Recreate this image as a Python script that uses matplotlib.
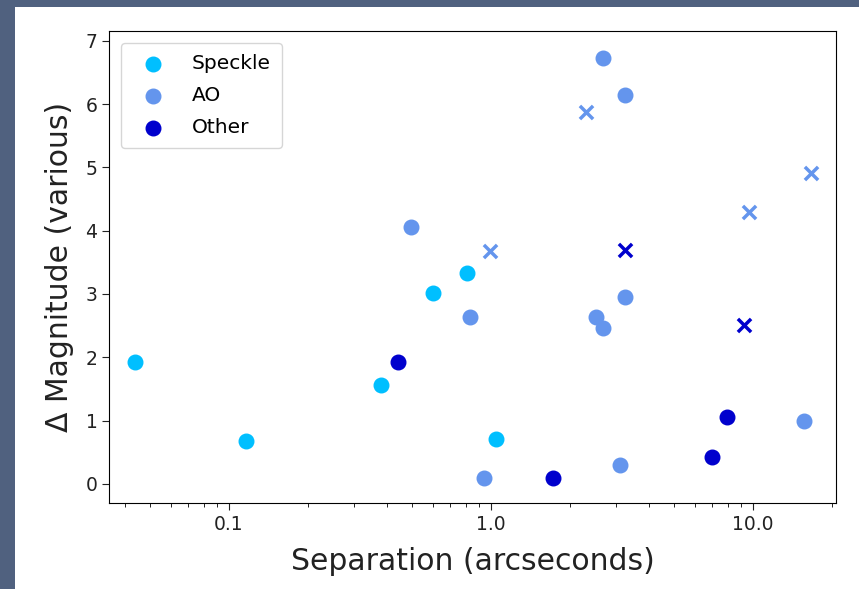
import numpy as np
import matplotlib
matplotlib.use('Agg')
import matplotlib.pyplot as plt
from matplotlib.patches import Rectangle

# Separation (arcsec) and delta magnitude, split by detection technique
speckle_sep = [0.0438, 0.116, 0.380, 0.601, 0.813, 1.045]
speckle_dmag = [1.92, 0.68, 1.57, 3.02, 3.33, 0.71]

ao_sep = [0.495, 0.833, 0.942, 2.68, 3.25, 2.52, 2.68, 3.25, 3.11, 15.6]
ao_dmag = [4.05, 2.64, 0.10, 6.73, 6.14, 2.64, 2.47, 2.96, 0.30, 0.99]

# upper limits / unconfirmed (drawn as crosses)
ao_lim_sep = [2.31, 0.993, 9.69, 16.6]
ao_lim_dmag = [5.87, 3.68, 4.29, 4.91]

other_sep = [0.442, 1.73, 6.99, 7.98]
other_dmag = [1.92, 0.10, 0.42, 1.06]

other_lim_sep = [3.25, 9.26]
other_lim_dmag = [3.70, 2.51]

c_speckle = '#00BFFF'
c_ao = '#6495ED'
c_other = '#0000CD'

fig = plt.figure(figsize=(8.59, 5.89), dpi=100)
fig.patch.set_facecolor('#50617f')
# white page area
fig.patches.append(Rectangle((15 / 859, 0), 1, 1 - 7 / 589, transform=fig.transFigure,
                             facecolor='white', edgecolor='none', zorder=-1))

ax = fig.add_axes([0.1272, 0.1455, 0.9729 - 0.1272, 0.9474 - 0.1455])

ms = 110
ax.scatter(speckle_sep, speckle_dmag, s=ms, c=c_speckle, edgecolors=c_speckle, label='Speckle')
ax.scatter(ao_sep, ao_dmag, s=ms, c=c_ao, edgecolors=c_ao, label='AO')
ax.scatter(other_sep, other_dmag, s=ms, c=c_other, edgecolors=c_other, label='Other')
ax.scatter(ao_lim_sep, ao_lim_dmag, s=90, marker='x', c=c_ao, linewidths=2.5)
ax.scatter(other_lim_sep, other_lim_dmag, s=90, marker='x', c=c_other, linewidths=2.5)

ax.set_xscale('log')
ax.set_xlim(0.0349, 20.7)
ax.set_ylim(-0.305, 7.153)
ax.set_xticks([0.1, 1.0, 10.0])
ax.set_xticklabels(['0.1', '1.0', '10.0'])
ax.set_yticks(range(8))
ax.tick_params(labelsize=13.5, length=5, colors='#222222')
ax.tick_params(which='minor', length=3)

ax.set_xlabel('Separation (arcseconds)', fontsize=21.5, color='#222222', labelpad=9)
ax.set_ylabel('Δ Magnitude (various)', fontsize=21.5, color='#222222', labelpad=8)

ax.legend(loc='upper left', bbox_to_anchor=(0.0, 1.0), borderaxespad=0.6,
          fontsize=14.5, borderpad=0.55, labelspacing=0.65, handletextpad=0.95)

fig.savefig('out.png', dpi=100, facecolor=fig.get_facecolor())
